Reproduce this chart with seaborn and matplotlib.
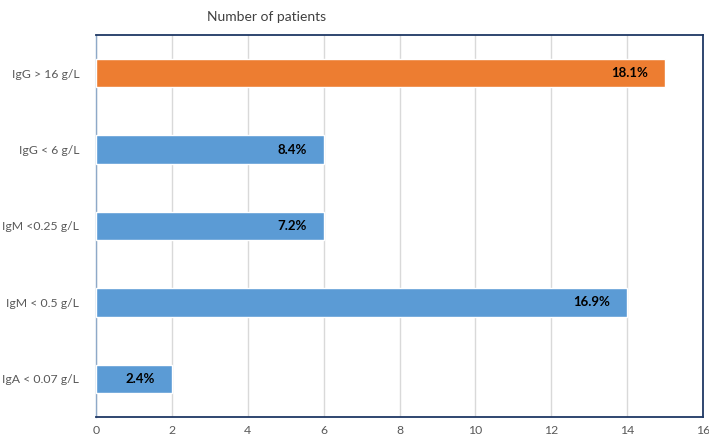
import matplotlib
matplotlib.use("Agg")
import matplotlib.pyplot as plt
import matplotlib.font_manager as fm
import seaborn as sns
import pandas as pd

categories = ["IgG > 16 g/L", "IgG < 6 g/L", "IgM <0.25 g/L", "IgM < 0.5 g/L", "IgA < 0.07 g/L"]
patients = [15, 6, 6, 14, 2]
percent_labels = ["18.1%", "8.4%", "7.2%", "16.9%", "2.4%"]
groups = ["high", "low", "low", "low", "low"]
x_ticks = [0, 2, 4, 6, 8, 10, 12, 14, 16]

sns.set_theme(style="white")
names = {f.name for f in fm.fontManager.ttflist}
main_font = "Liberation Sans Narrow" if "Liberation Sans Narrow" in names else "Lato"
plt.rcParams["font.family"] = [main_font, "DejaVu Sans"]

df = pd.DataFrame({"cat": categories, "n": patients, "grp": groups})

fig = plt.figure(figsize=(7.09, 4.38), dpi=100)
ax = fig.add_axes([96 / 709, 1 - 417 / 438, (703 - 96) / 709, (417 - 35) / 438])

sns.barplot(data=df, x="n", y="cat", hue="grp", order=categories,
            palette={"high": "#ED7D31", "low": "#5B9BD5"},
            dodge=False, width=0.37, legend=False, ax=ax, zorder=3,
            saturation=1)

fs = 10 if main_font == "Liberation Sans Narrow" else 8.8
ax.set_xlim(0, 16)
ax.set_xticks(x_ticks)
ax.set_xticklabels([str(t) for t in x_ticks])
ax.xaxis.grid(True, color="#D9D9D9", linewidth=1, zorder=0)
ax.set_axisbelow(True)
ax.set_xlabel("")
ax.set_ylabel("")
ax.tick_params(axis="both", length=0, labelsize=fs, labelcolor="#595959")
ax.tick_params(axis="x", pad=6)
ax.tick_params(axis="y", pad=12)

for side in ["top", "bottom", "right"]:
    ax.spines[side].set_visible(True)
    ax.spines[side].set_color("#1F3864")
    ax.spines[side].set_linewidth(1.3)
ax.spines["left"].set_color("#8EA9C8")
ax.spines["left"].set_linewidth(1.0)

for i, (v, lab) in enumerate(zip(patients, percent_labels)):
    ax.text(v - 0.45, i, lab, ha="right", va="center", fontsize=fs + 0.7,
            fontweight="bold", color="black", zorder=4)

fig.text(267 / 709, 1 - 17 / 438, "Number of patients", ha="center", va="center",
         fontsize=fs + 1.2, color="#404040")

fig.savefig("out.png", dpi=100)
